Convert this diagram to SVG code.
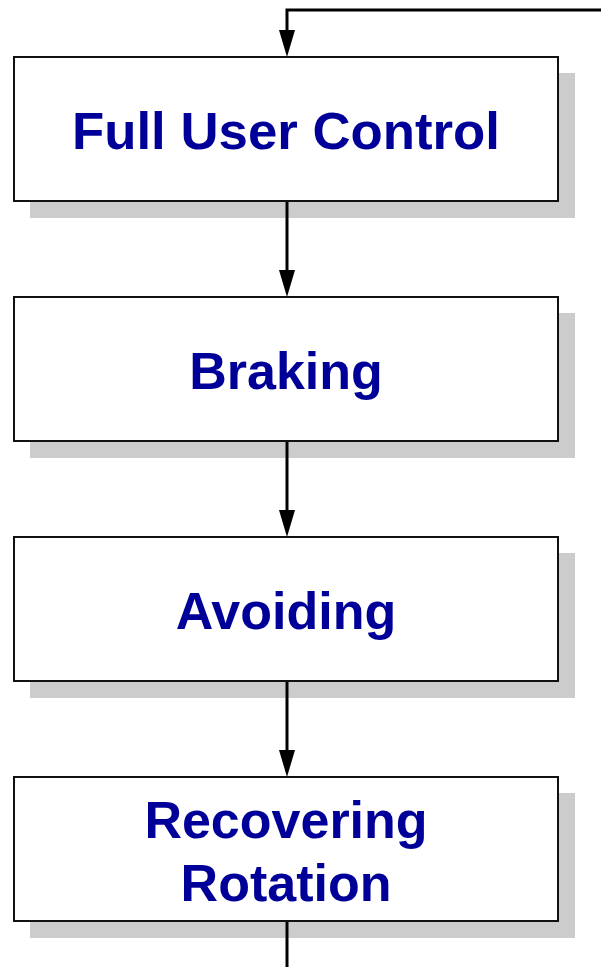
<svg xmlns="http://www.w3.org/2000/svg" width="601" height="967" viewBox="0 0 601 967">
  <style>
    .shadow { fill: #cccccc; }
    .box { fill: #ffffff; stroke: #111111; stroke-width: 2; }
    .label { font-family: "Liberation Sans", Arial, sans-serif; font-weight: bold; font-size: 52px; fill: #000099; text-anchor: middle; }
    .wire { fill: none; stroke: #000000; stroke-width: 3; }
    .head { fill: #000000; }
  </style>
  <rect width="601" height="967" fill="#ffffff"/>

  <g id="full-user-control">
    <rect class="shadow" x="30" y="73" width="545" height="145"/>
    <rect class="box" x="14" y="57" width="544" height="144"/>
    <text class="label" x="286" y="149" textLength="428" lengthAdjust="spacingAndGlyphs">Full User Control</text>
  </g>

  <g id="braking">
    <rect class="shadow" x="30" y="313" width="545" height="145"/>
    <rect class="box" x="14" y="297" width="544" height="144"/>
    <text class="label" x="286" y="389">Braking</text>
  </g>

  <g id="avoiding">
    <rect class="shadow" x="30" y="553" width="545" height="145"/>
    <rect class="box" x="14" y="537" width="544" height="144"/>
    <text class="label" x="286" y="629">Avoiding</text>
  </g>

  <g id="recovering-rotation">
    <rect class="shadow" x="30" y="793" width="545" height="145"/>
    <rect class="box" x="14" y="777" width="544" height="144"/>
    <text class="label" x="286" y="838">Recovering</text>
    <text class="label" x="286" y="901">Rotation</text>
  </g>

  <!-- connectors drawn last so they sit on top of the drop shadows -->
  <g id="connectors">
    <path class="wire" d="M601,10 H287 V32"/>
    <path class="head" d="M279,30 L295,30 L287,57 Z"/>
    <path class="wire" d="M287,202 V272"/>
    <path class="head" d="M279,270 L295,270 L287,297 Z"/>
    <path class="wire" d="M287,442 V512"/>
    <path class="head" d="M279,510 L295,510 L287,537 Z"/>
    <path class="wire" d="M287,682 V752"/>
    <path class="head" d="M279,750 L295,750 L287,777 Z"/>
    <path class="wire" d="M287,922 V967"/>
  </g>
</svg>
